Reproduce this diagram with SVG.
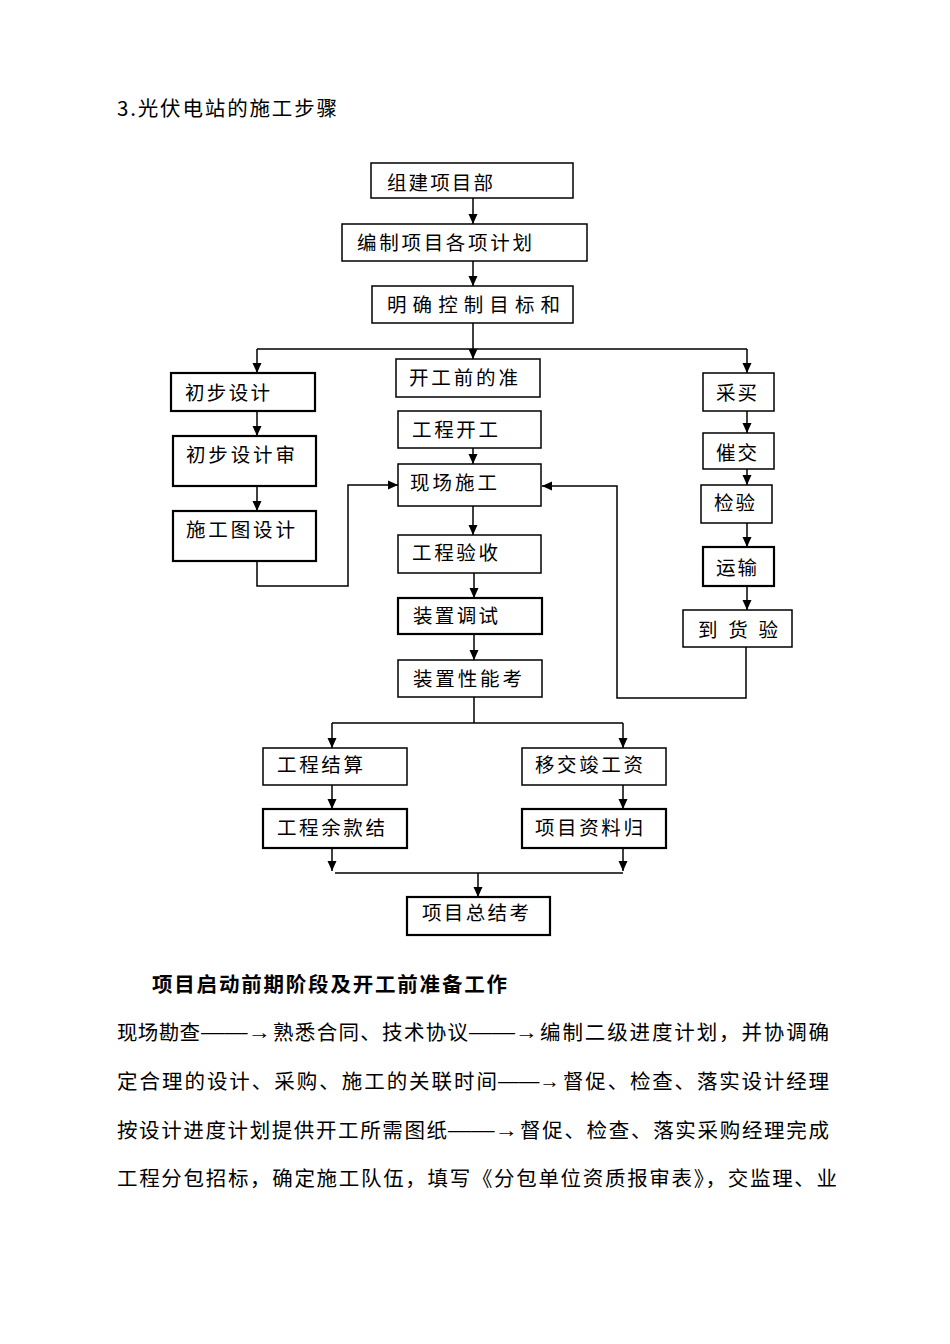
<svg xmlns="http://www.w3.org/2000/svg" width="950" height="1344" viewBox="0 0 950 1344">
<style>
.bg{fill:#fff}
.box{fill:#fff;stroke:#000;stroke-width:1.5}
.thick{stroke-width:2.2}
.lbl{font-family:"Noto Sans CJK SC","Liberation Sans",sans-serif;font-size:19.5px;fill:#000}
.txt{font-family:"Noto Sans CJK SC","Liberation Sans",sans-serif;font-size:20.5px;fill:#000}
.arr{font-family:"Liberation Sans","Noto Sans CJK SC",sans-serif;font-size:20.5px;fill:#000}
.hd{font-family:"Noto Sans CJK SC","Liberation Sans",sans-serif;font-size:20.5px;font-weight:bold;fill:#000}
.con{fill:none;stroke:#000;stroke-width:1.5}
</style>
<defs>
<marker id="ah" viewBox="0 0 10 10" refX="10" refY="5" markerWidth="10" markerHeight="10" markerUnits="userSpaceOnUse" orient="auto">
<path d="M0,0.5 L10,5 L0,9.5 z" fill="#000"/>
</marker>
</defs>
<rect class="bg" x="0" y="0" width="950" height="1344"/>
<text class="txt" x="117" y="116" textLength="220" lengthAdjust="spacing">3.光伏电站的施工步骤</text>

<g id="connectors">
<path class="con" marker-end="url(#ah)" d="M473,198 V224"/>
<path class="con" marker-end="url(#ah)" d="M473,261 V286"/>
<path class="con" d="M473,323 V349 M257,349 H747"/>
<path class="con" marker-end="url(#ah)" d="M257,349 V373"/>
<path class="con" marker-end="url(#ah)" d="M473,349 V359"/>
<path class="con" marker-end="url(#ah)" d="M747,349 V373"/>
<path class="con" marker-end="url(#ah)" d="M257,411 V436"/>
<path class="con" marker-end="url(#ah)" d="M257,486 V511"/>
<path class="con" marker-end="url(#ah)" d="M257,561 V586 H348 V485 H398"/>
<path class="con" marker-end="url(#ah)" d="M473,448 V464"/>
<path class="con" marker-end="url(#ah)" d="M473,506 V535"/>
<path class="con" marker-end="url(#ah)" d="M474,573 V598"/>
<path class="con" marker-end="url(#ah)" d="M474,634 V660"/>
<path class="con" d="M474,697 V723 M332,723 H623"/>
<path class="con" marker-end="url(#ah)" d="M332,723 V748"/>
<path class="con" marker-end="url(#ah)" d="M623,723 V748"/>
<path class="con" marker-end="url(#ah)" d="M332,785 V809"/>
<path class="con" marker-end="url(#ah)" d="M623,785 V809"/>
<path class="con" marker-end="url(#ah)" d="M332,848 V871"/>
<path class="con" marker-end="url(#ah)" d="M623,848 V871"/>
<path class="con" d="M335,873 H623"/>
<path class="con" marker-end="url(#ah)" d="M478,873 V897"/>
<path class="con" marker-end="url(#ah)" d="M747,411 V433"/>
<path class="con" marker-end="url(#ah)" d="M747,469 V485"/>
<path class="con" marker-end="url(#ah)" d="M747,523 V547"/>
<path class="con" marker-end="url(#ah)" d="M747,586 V610"/>
<path class="con" marker-end="url(#ah)" d="M746,647 V698 H617 V486 H542"/>
</g>

<g id="n1"><rect class="box" x="371" y="163" width="202" height="35"/><text class="lbl" x="387" y="190" textLength="106" lengthAdjust="spacing">组建项目部</text></g>
<g id="n2"><rect class="box" x="342" y="224" width="245" height="37"/><text class="lbl" x="357" y="250" textLength="175" lengthAdjust="spacing">编制项目各项计划</text></g>
<g id="n3"><rect class="box" x="372" y="286" width="201" height="37"/><text class="lbl" x="387" y="312" textLength="173" lengthAdjust="spacing">明确控制目标和</text></g>

<g id="n4"><rect class="box thick" x="171" y="373" width="144" height="38"/><text class="lbl" x="185" y="400" textLength="85" lengthAdjust="spacing">初步设计</text></g>
<g id="n5"><rect class="box thick" x="173" y="436" width="143" height="50"/><text class="lbl" x="186" y="462" textLength="109" lengthAdjust="spacing">初步设计审</text></g>
<g id="n6"><rect class="box thick" x="173" y="511" width="143" height="50"/><text class="lbl" x="186" y="537" textLength="109" lengthAdjust="spacing">施工图设计</text></g>

<g id="n7"><rect class="box" x="396" y="359" width="144" height="38"/><text class="lbl" x="409" y="385" textLength="109" lengthAdjust="spacing">开工前的准</text></g>
<g id="n8"><rect class="box" x="398" y="411" width="143" height="37"/><text class="lbl" x="412" y="437" textLength="86" lengthAdjust="spacing">工程开工</text></g>
<g id="n9"><rect class="box" x="398" y="464" width="143" height="42"/><text class="lbl" x="410" y="490" textLength="87" lengthAdjust="spacing">现场施工</text></g>
<g id="n10"><rect class="box" x="398" y="535" width="143" height="38"/><text class="lbl" x="412" y="560" textLength="86" lengthAdjust="spacing">工程验收</text></g>
<g id="n11"><rect class="box thick" x="398" y="598" width="144" height="36"/><text class="lbl" x="413" y="623" textLength="85" lengthAdjust="spacing">装置调试</text></g>
<g id="n12"><rect class="box" x="398" y="660" width="144" height="37"/><text class="lbl" x="413" y="686" textLength="109" lengthAdjust="spacing">装置性能考</text></g>

<g id="n13"><rect class="box" x="703" y="373" width="71" height="38"/><text class="lbl" x="716" y="400" textLength="41" lengthAdjust="spacing">采买</text></g>
<g id="n14"><rect class="box" x="703" y="433" width="71" height="36"/><text class="lbl" x="716" y="460" textLength="41" lengthAdjust="spacing">催交</text></g>
<g id="n15"><rect class="box" x="701" y="485" width="71" height="38"/><text class="lbl" x="714" y="510" textLength="41" lengthAdjust="spacing">检验</text></g>
<g id="n16"><rect class="box thick" x="703" y="547" width="71" height="39"/><text class="lbl" x="716" y="575" textLength="41" lengthAdjust="spacing">运输</text></g>
<g id="n17"><rect class="box" x="683" y="610" width="109" height="37"/><text class="lbl" x="698" y="637" textLength="80" lengthAdjust="spacing">到 货 验</text></g>

<g id="n18"><rect class="box" x="263" y="748" width="144" height="37"/><text class="lbl" x="277" y="772" textLength="86" lengthAdjust="spacing">工程结算</text></g>
<g id="n19"><rect class="box thick" x="263" y="809" width="144" height="39"/><text class="lbl" x="277" y="835" textLength="108" lengthAdjust="spacing">工程余款结</text></g>
<g id="n20"><rect class="box" x="522" y="748" width="144" height="37"/><text class="lbl" x="535" y="772" textLength="108" lengthAdjust="spacing">移交竣工资</text></g>
<g id="n21"><rect class="box thick" x="522" y="809" width="144" height="39"/><text class="lbl" x="535" y="835" textLength="108" lengthAdjust="spacing">项目资料归</text></g>
<g id="n22"><rect class="box thick" x="407" y="897" width="143" height="38"/><text class="lbl" x="422" y="920" textLength="107" lengthAdjust="spacing">项目总结考</text></g>

<text class="hd" x="152" y="992" textLength="355" lengthAdjust="spacing">项目启动前期阶段及开工前准备工作</text>

<text class="txt" x="117" y="1040" textLength="83" lengthAdjust="spacing">现场勘查</text>
<text class="arr" x="201" y="1039" textLength="70" lengthAdjust="spacingAndGlyphs">——→</text>
<text class="txt" x="273" y="1040" textLength="195" lengthAdjust="spacing">熟悉合同、技术协议</text>
<text class="arr" x="469" y="1039" textLength="69" lengthAdjust="spacingAndGlyphs">——→</text>
<text class="txt" x="540" y="1040" textLength="289" lengthAdjust="spacing">编制二级进度计划，并协调确</text>

<text class="txt" x="117" y="1089" textLength="380" lengthAdjust="spacing">定合理的设计、采购、施工的关联时间</text>
<text class="arr" x="498" y="1088" textLength="62" lengthAdjust="spacingAndGlyphs">——→</text>
<text class="txt" x="563" y="1089" textLength="266" lengthAdjust="spacing">督促、检查、落实设计经理</text>

<text class="txt" x="117" y="1138" textLength="330" lengthAdjust="spacing">按设计进度计划提供开工所需图纸</text>
<text class="arr" x="448" y="1137" textLength="70" lengthAdjust="spacingAndGlyphs">——→</text>
<text class="txt" x="520" y="1138" textLength="309" lengthAdjust="spacing">督促、检查、落实采购经理完成</text>

<text class="txt" x="117" y="1186" textLength="720" lengthAdjust="spacing">工程分包招标，确定施工队伍，填写《分包单位资质报审表》，交监理、业</text>
</svg>
